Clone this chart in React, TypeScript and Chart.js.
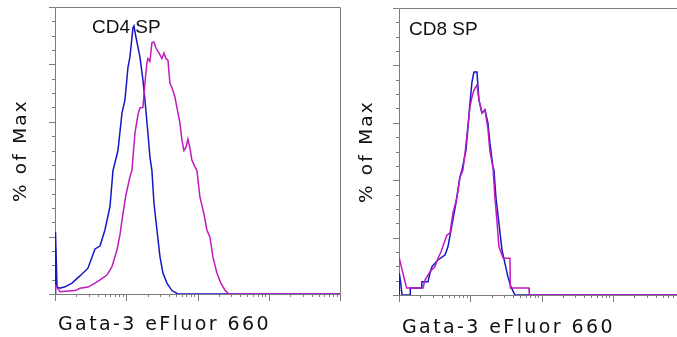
import React, { useEffect, useRef } from 'react';
import { Chart, registerables } from 'chart.js';

Chart.register(...registerables);

// ---------- data ----------
const X_TITLE = 'Gata-3 eFluor 660';
const Y_TITLE = '% of Max';
const PANEL_LABELS = ['CD4 SP', 'CD8 SP'];
const SERIES_NAMES = ['Gata-3 (blue)', 'Gata-3 (magenta)'];
const X_MIN = 10;
const X_MAX = 100000;
const Y_MIN = 0;
const Y_MAX = 100;
const Y_MAJOR_STEP = 20;
const Y_MINOR_STEP = 5;

// CD4 SP panel
const cd4BlueX = [10, 10.16, 10.67, 11.75, 13.8, 17.3, 22.4, 29, 36.4, 42.8, 50.2, 59.1, 65.1, 76.5, 87.1, 95.9, 105.7, 112.7, 124.2, 128.2, 136.8, 155.6, 171.4, 182.9, 201.5, 214.9, 229.2, 244.8, 269.8, 297.2, 327.3, 372.4, 437.5, 530.9, 100000];
const cd4BlueY = [0, 21.6, 2.5, 2, 2.5, 3.8, 6.3, 9, 15.7, 16.7, 22.3, 30.4, 43, 50, 63, 67.6, 79, 82.6, 92.7, 93.4, 89.5, 82.6, 74.6, 67.6, 56, 47.7, 43, 31.7, 22.3, 13, 7.3, 3.8, 1.2, 0, 0];
const cd4MagX = [10, 10.16, 11.75, 13.8, 19.08, 22.4, 29, 36.4, 42.8, 53.6, 63, 74.1, 81.6, 89.9, 99, 112.7, 120.2, 132.4, 145.9, 155.6, 171.4, 182.9, 195.1, 201.5, 214.9, 229.2, 244.8, 261.2, 287.8, 317, 338.1, 360.6, 384.6, 410.2, 451.9, 482, 514, 566.2, 604, 644.2, 687.1, 732.8, 781.6, 833.7, 919.9, 981.7, 1081, 1230, 1355, 1493, 1644, 1871, 2128, 2421, 2754, 100000];
const cd4MagY = [0, 3, 0.8, 1, 1.2, 2, 2.4, 3.8, 4.9, 6.6, 9.5, 15.3, 20.6, 28, 34.5, 40.9, 43, 56, 62.4, 64.8, 65, 73.5, 80.5, 82, 81, 87.5, 87.8, 85.7, 84, 82, 84, 82, 81.5, 73.5, 71, 68.6, 65, 59.6, 53.7, 50, 51, 54, 51, 46.7, 44.3, 43, 33.8, 28, 22.3, 19.9, 13, 7.3, 3.8, 1.4, 0, 0];

// CD8 SP panel
const cd8BlueX = [10, 10.1, 10.6, 11.02, 14.27, 14.4, 20.81, 21.03, 25.52, 27.21, 29.03, 35.24, 44.17, 48.66, 55.37, 62.97, 71.7, 76.5, 87.1, 92.9, 99.1, 105.7, 112.7, 124.2, 132.4, 145.9, 160.7, 177, 188.8, 208, 214.9, 229.2, 252.7, 278.6, 306.9, 338.1, 372.4, 423.6, 100000];
const cd8BlueY = [0, 7.6, 4, 0, 0, 2.4, 2.4, 4.6, 4.6, 7.6, 9.9, 12.2, 13.9, 16.8, 24.4, 32, 41.2, 43.5, 50.5, 58.5, 66.9, 74.2, 77.7, 77.7, 68, 63.4, 64.5, 60, 53, 44.6, 43.6, 34, 25, 15.7, 11, 6.3, 2.9, 0, 0];
const cd8MagX = [10, 12.14, 12.82, 21.71, 23.17, 27.21, 31.98, 35.24, 38.82, 42.77, 47.11, 51.9, 57.17, 65, 71.7, 79, 84.3, 99.1, 105.7, 112.7, 124.2, 132.4, 145.9, 160.7, 177, 188.8, 208, 221.9, 236.6, 252.7, 290.6, 360.6, 365, 668, 675, 100000];
const cd8MagY = [13.3, 4.6, 2.4, 2.4, 5.2, 8.1, 9.9, 12.8, 15, 18, 20.9, 21.6, 28.5, 34, 41, 43.5, 49.4, 65.5, 69, 71.4, 73.2, 68, 63.4, 64.5, 58, 50, 44.6, 34, 26, 16.8, 12.8, 12.8, 2.4, 2.4, 0, 0];

const BLUE = '#1616c4';
const MAGENTA = '#c01ac0';
const FRAME = '#7c7c7c';
const TEXT = '#111111';

const zip = (xs: number[], ys: number[]) => xs.map((x, i) => ({ x, y: ys[i] }));

type PanelCfg = {
  label: string;
  blueX: number[];
  blueY: number[];
  magX: number[];
  magY: number[];
  padding: { left: number; right: number; top: number; bottom: number };
  drawRight: boolean;
  xTitleDx: number;
  xTitleBaseline: number;
  yTitleDx: number;
  labelDx: number;
  labelBaseline: number;
};

const framePlugin = {
  id: 'facsFrame',
  beforeDatasetsDraw(chart: any, _args: any, opts: any) {
    const { ctx, chartArea: a } = chart;
    const xs = chart.scales.x;
    const ys = chart.scales.y;
    ctx.save();
    ctx.strokeStyle = FRAME;
    ctx.lineWidth = 1;
    ctx.beginPath();
    ctx.moveTo(a.left + 0.5, a.bottom + 0.5);
    ctx.lineTo(a.left + 0.5, a.top + 0.5);
    ctx.lineTo(a.right + 0.5, a.top + 0.5);
    if (opts.drawRight) ctx.lineTo(a.right + 0.5, a.bottom + 0.5);
    ctx.moveTo(a.left, a.bottom + 0.5);
    ctx.lineTo(a.right + 1, a.bottom + 0.5);
    for (let v = Y_MIN; v <= Y_MAX; v += Y_MINOR_STEP) {
      const py = Math.round(ys.getPixelForValue(v)) + 0.5;
      const len = v % Y_MAJOR_STEP === 0 ? 6 : 3;
      ctx.moveTo(a.left - len, py);
      ctx.lineTo(a.left, py);
    }
    for (let dec = X_MIN; dec <= X_MAX; dec *= 10) {
      for (let m = 1; m <= 9; m++) {
        const v = dec * m;
        if (v > X_MAX) break;
        const px = Math.round(xs.getPixelForValue(v)) + 0.5;
        const len = m === 1 ? 7 : 3;
        ctx.moveTo(px, a.bottom);
        ctx.lineTo(px, a.bottom + len);
      }
    }
    ctx.stroke();
    ctx.restore();
  },
  afterDraw(chart: any, _args: any, opts: any) {
    const { ctx, chartArea: a } = chart;
    ctx.save();
    ctx.fillStyle = TEXT;
    ctx.textBaseline = 'alphabetic';
    ctx.textAlign = 'left';
    (ctx as any).letterSpacing = '2.4px';
    ctx.font = '19px "DejaVu Sans"';
    ctx.fillText(opts.xTitle, a.left + opts.xTitleDx, opts.xTitleBaseline);
    ctx.save();
    (ctx as any).letterSpacing = '2.2px';
    ctx.font = '18.5px "DejaVu Sans"';
    ctx.translate(a.left + opts.yTitleDx, (a.top + a.bottom) / 2);
    ctx.rotate(-Math.PI / 2);
    ctx.textAlign = 'center';
    ctx.fillText(opts.yTitle, 0, 0);
    ctx.restore();
    (ctx as any).letterSpacing = '0px';
    ctx.font = '19px "Liberation Sans", Arial, sans-serif';
    ctx.fillText(opts.label, a.left + opts.labelDx, opts.labelBaseline);
    ctx.restore();
  },
};

function Panel({ cfg, width, height }: { cfg: PanelCfg; width: number; height: number }) {
  const ref = useRef<HTMLCanvasElement>(null);
  useEffect(() => {
    if (!ref.current) return;
    const chart = new Chart(ref.current, {
      type: 'line',
      data: {
        datasets: [
          {
            label: SERIES_NAMES[1],
            data: zip(cfg.magX, cfg.magY),
            borderColor: MAGENTA,
            borderWidth: 1.5,
            pointRadius: 0,
            tension: 0,
            fill: false,
          },
          {
            label: SERIES_NAMES[0],
            data: zip(cfg.blueX, cfg.blueY),
            borderColor: BLUE,
            borderWidth: 1.5,
            pointRadius: 0,
            tension: 0,
            fill: false,
          },
        ],
      },
      options: {
        animation: false,
        responsive: false,
        maintainAspectRatio: false,
        layout: { padding: cfg.padding },
        scales: {
          x: { type: 'logarithmic', min: X_MIN, max: X_MAX, display: false },
          y: { type: 'linear', min: Y_MIN, max: Y_MAX, display: false },
        },
        plugins: {
          legend: { display: false },
          tooltip: { enabled: false },
          facsFrame: {
            drawRight: cfg.drawRight,
            xTitle: X_TITLE,
            yTitle: Y_TITLE,
            label: cfg.label,
            xTitleDx: cfg.xTitleDx,
            xTitleBaseline: cfg.xTitleBaseline,
            yTitleDx: cfg.yTitleDx,
            labelDx: cfg.labelDx,
            labelBaseline: cfg.labelBaseline,
          },
        } as any,
      },
      plugins: [framePlugin],
    });
    return () => chart.destroy();
  }, [cfg]);
  return <canvas ref={ref} width={width} height={height} style={{ width, height, display: 'block' }} />;
}

const LEFT: PanelCfg = {
  label: PANEL_LABELS[0],
  blueX: cd4BlueX,
  blueY: cd4BlueY,
  magX: cd4MagX,
  magY: cd4MagY,
  padding: { left: 55, right: 5, top: 7, bottom: 43 },
  drawRight: true,
  xTitleDx: 3,
  xTitleBaseline: 330,
  yTitleDx: -29,
  labelDx: 37,
  labelBaseline: 33,
};

const RIGHT: PanelCfg = {
  label: PANEL_LABELS[1],
  blueX: cd8BlueX,
  blueY: cd8BlueY,
  magX: cd8MagX,
  magY: cd8MagY,
  padding: { left: 54, right: 6, top: 8, bottom: 42 },
  drawRight: true,
  xTitleDx: 3,
  xTitleBaseline: 333,
  yTitleDx: -27,
  labelDx: 10,
  labelBaseline: 35,
};

export default function App() {
  return (
    <div style={{ position: 'fixed', left: 0, top: 0, width: 677, height: 337, overflow: 'hidden', background: '#fff' }}>
      <div style={{ position: 'absolute', left: 0, top: 0 }}>
        <Panel cfg={LEFT} width={345} height={337} />
      </div>
      <div style={{ position: 'absolute', left: 345, top: 0 }}>
        <Panel cfg={RIGHT} width={345} height={337} />
      </div>
    </div>
  );
}
